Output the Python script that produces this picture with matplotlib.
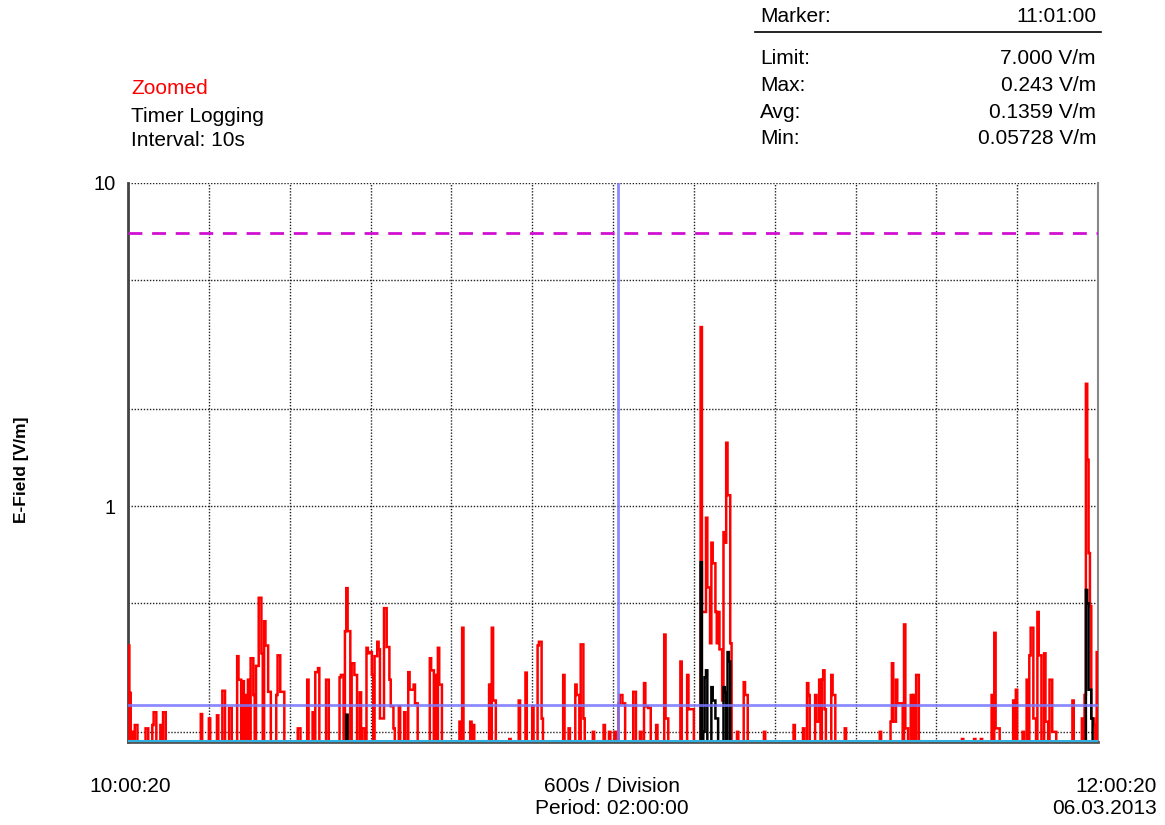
import numpy as np
import matplotlib
matplotlib.use("Agg")
import matplotlib.pyplot as plt
from matplotlib.ticker import FixedLocator, NullFormatter, NullLocator

plt.rcParams['font.family'] = ['Liberation Sans', 'DejaVu Sans']

# sample interval 10 s, 720 samples from 10:00:20 to 12:00:20
n_samples = 720
interval_s = 10
baseline = 0.06

# red trace: (start sample, end sample, value V/m)
red_pulses = [
    (0, 1, 0.37), (1, 2, 0.264), (3, 4, 0.20), (5, 7, 0.21), (13, 15, 0.205),
    (18, 19, 0.21), (19, 21, 0.23), (24, 25, 0.21), (26, 28, 0.23),
    (54, 55, 0.227), (60, 61, 0.22), (66, 67, 0.225), (70, 72, 0.268), (75, 77, 0.237),
    (81, 82, 0.343), (82, 84, 0.29), (85, 86, 0.287), (87, 88, 0.26), (89, 90, 0.29),
    (91, 93, 0.338), (93, 94, 0.26), (95, 97, 0.32), (97, 99, 0.52), (99, 100, 0.35),
    (101, 102, 0.44), (102, 104, 0.37), (104, 106, 0.266),
    (110, 111, 0.26), (111, 113, 0.345), (113, 116, 0.266),
    (126, 128, 0.205), (133, 134, 0.29), (137, 138, 0.23), (139, 141, 0.306), (141, 142, 0.315),
    (147, 149, 0.29), (157, 158, 0.295), (158, 160, 0.30),
    (161, 162, 0.41), (162, 163, 0.557), (163, 165, 0.41), (166, 168, 0.326), (168, 170, 0.30),
    (172, 173, 0.265), (174, 176, 0.205),
    (177, 178, 0.364), (178, 179, 0.35), (179, 181, 0.353), (181, 182, 0.30),
    (183, 185, 0.343), (185, 186, 0.38), (186, 187, 0.36), (187, 190, 0.22),
    (190, 192, 0.483), (192, 194, 0.366), (194, 195, 0.29), (195, 197, 0.24), (197, 198, 0.205),
    (201, 202, 0.24), (205, 206, 0.23),
    (208, 209, 0.306), (209, 212, 0.27), (212, 213, 0.28), (213, 215, 0.245),
    (224, 225, 0.338), (225, 227, 0.31), (228, 229, 0.30), (230, 231, 0.364), (231, 233, 0.28),
    (246, 247, 0.215), (248, 249, 0.42), (254, 255, 0.215), (256, 257, 0.21),
    (268, 269, 0.28), (270, 271, 0.42), (271, 273, 0.25), (283, 284, 0.19),
    (290, 291, 0.25), (295, 296, 0.305), (300, 301, 0.24),
    (304, 305, 0.37), (305, 307, 0.38), (307, 308, 0.22),
    (323, 324, 0.30), (327, 328, 0.205),
    (332, 333, 0.28), (333, 335, 0.26), (336, 338, 0.373), (338, 339, 0.22),
    (345, 346, 0.20), (353, 354, 0.21), (357, 358, 0.20), (361, 362, 0.20),
    (364, 365, 0.245), (365, 367, 0.26), (367, 369, 0.245), (375, 377, 0.266), (380, 381, 0.20),
    (383, 384, 0.283), (384, 386, 0.24), (386, 388, 0.237), (392, 393, 0.21),
    (398, 399, 0.40), (399, 401, 0.22), (410, 411, 0.33), (415, 416, 0.30), (416, 420, 0.235),
    (425, 426, 3.58), (426, 429, 0.47), (429, 430, 0.92), (430, 432, 0.56), (432, 433, 0.376),
    (433, 434, 0.77), (434, 436, 0.665), (436, 437, 0.47), (437, 438, 0.376), (438, 439, 0.47),
    (439, 441, 0.36), (441, 442, 0.25), (442, 443, 0.83), (443, 444, 0.77), (444, 445, 1.57),
    (445, 447, 1.08), (447, 448, 0.376),
    (452, 453, 0.20), (457, 458, 0.285), (458, 460, 0.26), (472, 473, 0.20),
    (494, 495, 0.21), (501, 502, 0.205), (504, 505, 0.283), (505, 506, 0.26),
    (510, 511, 0.26), (511, 513, 0.215), (513, 514, 0.29), (515, 516, 0.29), (516, 517, 0.31),
    (517, 518, 0.235), (522, 523, 0.30), (523, 525, 0.26), (532, 533, 0.205),
    (558, 559, 0.20), (566, 567, 0.215), (567, 568, 0.326), (568, 570, 0.215),
    (570, 571, 0.29), (571, 575, 0.245), (576, 577, 0.43), (577, 579, 0.205),
    (581, 582, 0.26), (583, 584, 0.26), (585, 587, 0.30),
    (619, 620, 0.19), (628, 629, 0.19), (633, 634, 0.19),
    (641, 642, 0.26), (643, 644, 0.405), (644, 647, 0.205),
    (657, 658, 0.25), (659, 660, 0.27), (664, 665, 0.20), (667, 668, 0.29),
    (669, 670, 0.345), (670, 672, 0.42), (672, 674, 0.22), (675, 676, 0.47), (676, 678, 0.345),
    (680, 681, 0.35), (681, 683, 0.215), (684, 686, 0.29), (686, 689, 0.20),
    (701, 702, 0.25), (708, 709, 0.22), (710, 711, 0.26),
    (711, 712, 2.39), (712, 713, 1.39), (713, 714, 0.715), (714, 715, 0.49),
    (715, 717, 0.22), (717, 718, 0.21), (719, 720, 0.353),
]

# black trace
black_pulses = [
    (162, 163, 0.226),
    (425, 426, 0.67), (427, 428, 0.20), (428, 429, 0.295), (429, 430, 0.31),
    (433, 434, 0.275), (434, 436, 0.25), (436, 438, 0.22), (442, 443, 0.275),
    (443, 444, 0.265), (445, 446, 0.353), (446, 447, 0.33),
    (711, 712, 0.55), (712, 713, 0.50), (713, 715, 0.27), (715, 716, 0.22),
]

limit = 7.0
marker_s = 3640      # 11:01:00
marker_max = 0.243

info_left = ["Timer Logging", "Interval: 10s"]
info_labels = ["Limit:", "Max:", "Avg:", "Min:"]
info_values = ["7.000 V/m", "0.243 V/m", "0.1359 V/m", "0.05728 V/m"]


def build_trace(pulses):
    vals = np.full(n_samples, baseline)
    for s, e, v in pulses:
        vals[s:e] = v
    return vals


edges = np.arange(n_samples + 1) * interval_s
red = build_trace(red_pulses)
black = build_trace(black_pulses)

fig = plt.figure(figsize=(11.65, 8.25), dpi=100)
ax = fig.add_axes([0.1099, 0.1006, 0.8326, 0.6776])

ax.stairs(red, edges, color='red', lw=1.8, zorder=3)
ax.stairs(black, edges, color='black', lw=1.8, zorder=4)

ax.axhline(limit, color='#d010d0', lw=2, ls=(0, (5, 3.5)), zorder=5)
ax.axhline(marker_max, color='#7777ff', lw=2, alpha=0.85, zorder=5)
ax.axvline(marker_s, color='#7777ff', lw=2, alpha=0.85, zorder=5)
ax.axhline(0.1875, color='#30b0e0', lw=1.5, zorder=6)

ax.set_yscale('log')
ax.set_ylim(0.186, 10)
ax.set_xlim(0, n_samples * interval_s)

ax.yaxis.set_major_locator(FixedLocator([1, 10]))
ax.yaxis.set_minor_locator(FixedLocator([0.2, 0.5, 2, 5]))
ax.yaxis.set_minor_formatter(NullFormatter())
ax.set_yticklabels(["1", "10"])
ax.xaxis.set_major_locator(FixedLocator(np.arange(0, 7201, 600)))
ax.xaxis.set_minor_locator(NullLocator())
ax.set_xticklabels([])
ax.tick_params(axis='both', which='both', length=0, labelsize=14.5, pad=9)
ax.grid(True, which='both', color='#222222', ls=(0, (1, 1.2)), lw=1)

ax.spines['top'].set_visible(False)
ax.spines['left'].set_color('#444444')
ax.spines['left'].set_linewidth(2)
ax.spines['bottom'].set_color('#555555')
ax.spines['bottom'].set_linewidth(2)
ax.spines['right'].set_color('#888888')
ax.spines['right'].set_linewidth(1.5)

fig.text(22 / 1165, 1 - 470 / 825, "E-Field [V/m]", fontsize=12.5, fontweight='bold',
         rotation=90, ha='center', va='center')

# header text
fs = 15
fig.text(131 / 1165, 1 - 88 / 825, "Zoomed", color='red', fontsize=fs, va='center')
for i, t in enumerate(info_left):
    fig.text(131 / 1165, 1 - (116 + 24 * i) / 825, t, fontsize=fs, va='center')

fig.text(760 / 1165, 1 - 17 / 825, "Marker:", fontsize=fs, va='center')
fig.text(1096 / 1165, 1 - 17 / 825, "11:01:00", fontsize=fs, va='center', ha='right')
fig.add_artist(plt.Line2D([755 / 1165, 1101 / 1165], [1 - 32 / 825, 1 - 32 / 825], color='black', lw=1.2))
for i, (lab, val) in enumerate(zip(info_labels, info_values)):
    y = 1 - (59 + 26.5 * i) / 825
    fig.text(760 / 1165, y, lab, fontsize=fs, va='center')
    fig.text(1096 / 1165, y, val, fontsize=fs, va='center', ha='right')

# footer text
fig.text(130 / 1165, 1 - 786 / 825, "10:00:20", fontsize=fs, va='center', ha='center')
fig.text(612 / 1165, 1 - 786 / 825, "600s / Division", fontsize=fs, va='center', ha='center')
fig.text(612 / 1165, 1 - 809 / 825, "Period: 02:00:00", fontsize=fs, va='center', ha='center')
fig.text(1157 / 1165, 1 - 786 / 825, "12:00:20", fontsize=fs, va='center', ha='right')
fig.text(1157 / 1165, 1 - 809 / 825, "06.03.2013", fontsize=fs, va='center', ha='right')

fig.savefig("out.png", dpi=100)
